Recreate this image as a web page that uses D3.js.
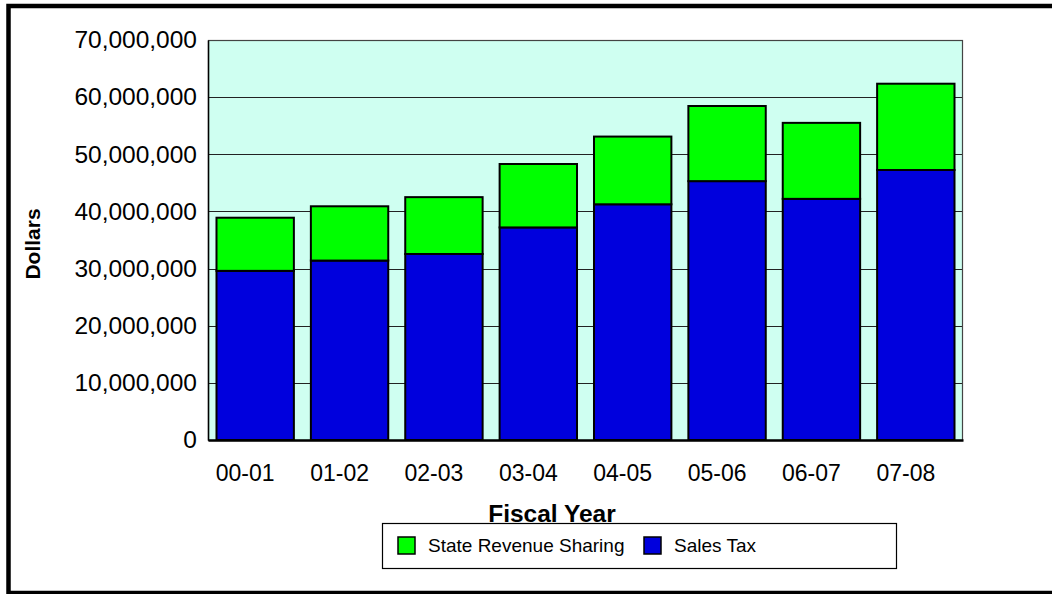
<!DOCTYPE html>
<html>
<head>
<meta charset="utf-8">
<script src="https://cdn.jsdelivr.net/npm/d3@7"></script>
<style>
  html, body { margin: 0; padding: 0; background: #fff; }
  svg { display: block; font-family: "Liberation Sans", Arial, sans-serif; }
</style>
</head>
<body>
<svg id="chart" width="1052" height="594"></svg>
<script>
// Fiscal years on the x axis
const years = ["00-01", "01-02", "02-03", "03-04", "04-05", "05-06", "06-07", "07-08"];
// Revenue components, in dollars
const salesTax = [29600000, 31400000, 32550000, 37200000, 41250000, 45300000, 42200000, 47250000];
const stateRevenueSharing = [9300000, 9500000, 9950000, 11100000, 11850000, 13150000, 13300000, 15100000];
// Value axis ticks
const yTicks = [0, 10000000, 20000000, 30000000, 40000000, 50000000, 60000000, 70000000];

const seriesNames = ["Sales Tax", "State Revenue Sharing"];
const colors = { "Sales Tax": "#0000DD", "State Revenue Sharing": "#00FF00" };

const rows = years.map((y, i) => ({
  year: y,
  "Sales Tax": salesTax[i],
  "State Revenue Sharing": stateRevenueSharing[i]
}));

const svg = d3.select("#chart");

// Outer frame
svg.append("rect")
  .attr("x", 8.5).attr("y", 6).attr("width", 1060).attr("height", 587)
  .attr("fill", "none").attr("stroke", "#000").attr("stroke-width", 4.5);

const plot = { left: 208, top: 40, right: 963, bottom: 440 };

const x = d3.scaleBand()
  .domain(years)
  .range([plot.left, plot.right])
  .paddingInner(0.18)
  .paddingOuter(0.09);

const y = d3.scaleLinear()
  .domain([0, 70000000])
  .range([plot.bottom, plot.top]);

// Plot background
svg.append("rect")
  .attr("x", plot.left).attr("y", plot.top)
  .attr("width", plot.right - plot.left).attr("height", plot.bottom - plot.top)
  .attr("fill", "#CFFFF1");

// Gridlines
svg.append("g")
  .selectAll("line")
  .data(yTicks.filter(t => t > 0))
  .join("line")
  .attr("x1", plot.left).attr("x2", plot.right)
  .attr("y1", d => Math.round(y(d)) + 0.5).attr("y2", d => Math.round(y(d)) + 0.5)
  .attr("stroke", "#222").attr("stroke-width", 1.2);

// Plot border
svg.append("rect")
  .attr("x", plot.left + 0.5).attr("y", plot.top + 0.5)
  .attr("width", plot.right - plot.left - 1).attr("height", plot.bottom - plot.top)
  .attr("fill", "none").attr("stroke", "#444").attr("stroke-width", 1.2);

// Stacked bars
const stack = d3.stack().keys(seriesNames);
const stacked = stack(rows);

svg.append("g")
  .selectAll("g")
  .data(stacked)
  .join("g")
  .attr("fill", d => colors[d.key])
  .selectAll("rect")
  .data(d => d)
  .join("rect")
  .attr("x", d => x(d.data.year))
  .attr("y", d => y(d[1]))
  .attr("width", x.bandwidth())
  .attr("height", d => y(d[0]) - y(d[1]))
  .attr("stroke", "#000")
  .attr("stroke-width", 2);

// Y axis
const yAxis = d3.axisLeft(y)
  .tickValues(yTicks)
  .tickSize(0)
  .tickPadding(11)
  .tickFormat(d3.format(","));

const gy = svg.append("g")
  .attr("transform", `translate(${plot.left},0)`)
  .call(yAxis);
gy.select(".domain").attr("stroke", "#000").attr("stroke-width", 1.5);
gy.selectAll("text")
  .attr("font-size", 24.5)
  .attr("fill", "#000")
  .attr("font-family", "'Liberation Sans', Arial, sans-serif");

// X axis
const xAxis = d3.axisBottom(x).tickSize(0).tickPadding(25);
const gx = svg.append("g")
  .attr("transform", `translate(0,${plot.bottom})`)
  .call(xAxis);
gx.select(".domain").attr("stroke", "#000").attr("stroke-width", 2.5);
gx.selectAll("text")
  .attr("dx", -10)
  .attr("font-size", 23)
  .attr("fill", "#000")
  .attr("font-family", "'Liberation Sans', Arial, sans-serif");

// Axis titles
svg.append("text")
  .attr("transform", "translate(40,244) rotate(-90)")
  .attr("text-anchor", "middle")
  .attr("font-size", 21)
  .attr("font-weight", "bold")
  .text("Dollars");

svg.append("text")
  .attr("x", 552).attr("y", 522)
  .attr("text-anchor", "middle")
  .attr("font-size", 24.5)
  .attr("font-weight", "bold")
  .text("Fiscal Year");

// Legend
const legend = svg.append("g");
legend.append("rect")
  .attr("x", 382.5).attr("y", 523.5).attr("width", 514).attr("height", 45)
  .attr("fill", "#fff").attr("stroke", "#000").attr("stroke-width", 1.2);

const legendItems = [
  { name: "State Revenue Sharing", sx: 398, tx: 428 },
  { name: "Sales Tax", sx: 644, tx: 674 }
];
legendItems.forEach(it => {
  legend.append("rect")
    .attr("x", it.sx).attr("y", 537).attr("width", 17).attr("height", 17)
    .attr("fill", colors[it.name]).attr("stroke", "#000").attr("stroke-width", 1.5);
  legend.append("text")
    .attr("x", it.tx).attr("y", 552)
    .attr("font-size", 19)
    .attr("fill", "#000")
    .text(it.name);
});
</script>
</body>
</html>
